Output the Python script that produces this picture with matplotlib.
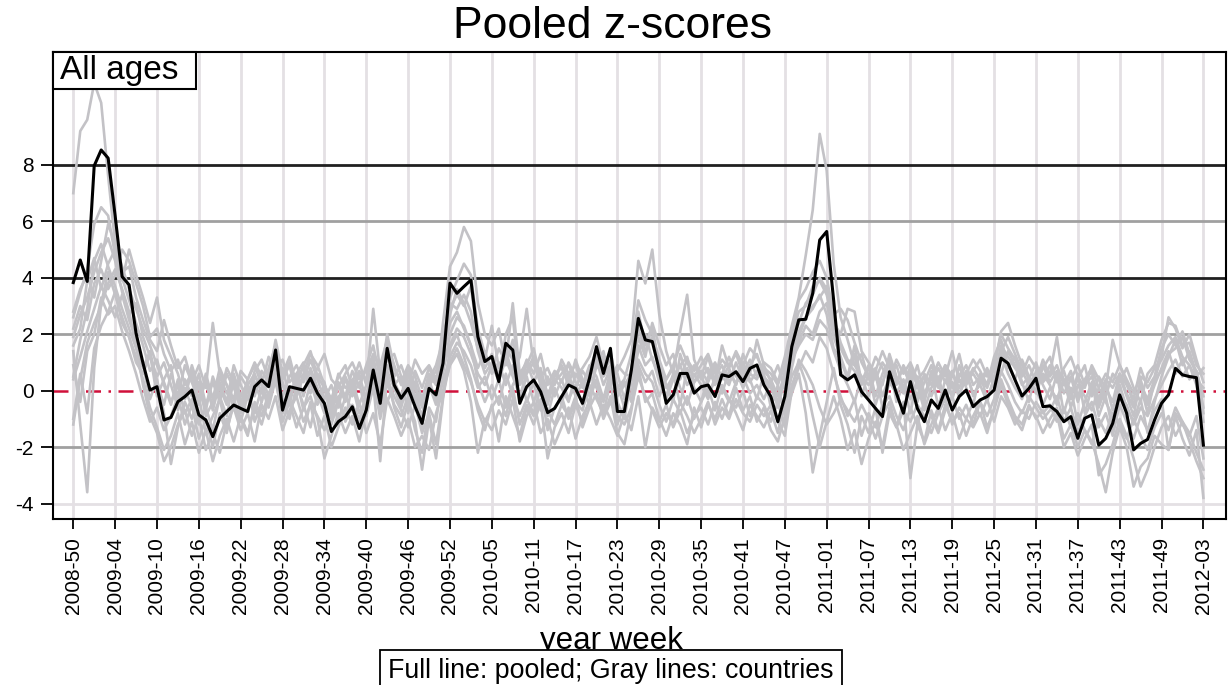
import numpy as np
import matplotlib
matplotlib.use("Agg")
import matplotlib.pyplot as plt
from matplotlib.patches import Rectangle

plt.rcParams['font.family'] = ['Liberation Sans', 'DejaVu Sans']

# tick labels (every 6th week)
tick_labels = ["2008-50", "2009-04", "2009-10", "2009-16", "2009-22", "2009-28", "2009-34",
               "2009-40", "2009-46", "2009-52", "2010-05", "2010-11", "2010-17", "2010-23",
               "2010-29", "2010-35", "2010-41", "2010-47", "2011-01", "2011-07", "2011-13",
               "2011-19", "2011-25", "2011-31", "2011-37", "2011-43", "2011-49", "2012-03"]

# pooled z-score (black line), weeks 2008-50 .. 2012-03
pooled = [3.83, 4.63, 3.87, 7.97, 8.53, 8.24, 6.2, 4.04, 3.75, 2.03,
          0.97, 0.02, 0.14, -1.04, -0.95, -0.39, -0.21, 0.02, -0.86, -1.04,
          -1.63, -0.98, -0.74, -0.51, -0.63, -0.74, 0.14, 0.38, 0.14, 1.44,
          -0.69, 0.14, 0.08, 0.02, 0.44, -0.09, -0.45, -1.45, -1.10, -0.92,
          -0.57, -1.34, -0.69, 0.73, -0.45, 1.50, 0.20, -0.27, 0.08, -0.57,
          -1.16, 0.08, -0.15, 0.97, 3.81, 3.45, 3.69, 3.92, 1.91, 1.03,
          1.21, 0.32, 1.68, 1.44, -0.45, 0.14, 0.38, -0.04, -0.78, -0.63,
          -0.21, 0.20, 0.08, -0.45, 0.44, 1.56, 0.61, 1.50, -0.74, -0.74,
          0.73, 2.56, 1.80, 1.74, 0.73, -0.45, -0.15, 0.61, 0.61, -0.09,
          0.14, 0.20, -0.21, 0.56, 0.50, 0.67, 0.32, 0.79, 0.91, 0.20,
          -0.21, -1.10, -0.21, 1.56, 2.51, 2.53, 3.45, 5.34, 5.64, 3.2,
          0.56, 0.38, 0.56, -0.04, -0.33, -0.63, -0.92, 0.67, -0.09, -0.80,
          0.32, -0.63, -1.10, -0.33, -0.63, 0.02, -0.69, -0.21, 0.02, -0.57,
          -0.33, -0.21, 0.02, 1.15, 0.97, 0.38, -0.19, 0.08, 0.44, -0.57,
          -0.54, -0.74, -1.10, -0.92, -1.69, -0.98, -0.86, -1.93, -1.69, -1.16,
          -0.15, -0.80, -2.10, -1.87, -1.73, -1.04, -0.45, -0.15, 0.79, 0.56,
          0.50, 0.46, -1.93]

# country z-scores (gray lines)
c01 = [7.0, 9.2, 9.6, 10.9, 10.2, 7.6, 5.2, 4.4, 3.6, 2.9,
       2.2, 1.6, 0.9, 0.3, -0.4, 0.2, -0.8, -0.3, -1.2, -0.6,
       -1.4, -0.2, -0.9, 0.4, -0.3, -0.8, 0.5, 0.2, -0.4, 0.9,
       0.3, -0.5, 0.6, -0.2, 0.8, 0.1, -0.7, -1.2, -0.4, -1.0,
       0.2, -0.8, -0.3, 1.1, -0.6, 0.9, 0.4, -0.5, 0.6, -0.2,
       -0.9, 0.4, -0.4, 1.2, 2.4, 2.8, 2.2, 1.6, 0.8, 1.4,
       0.6, 1.0, 0.2, 0.9, -0.3, 0.5, -0.4, 0.3, -0.9, 0.1,
       -0.5, 0.6, -0.2, 0.3, -0.6, 1.1, 0.2, 0.8, -0.4, -1.0,
       0.4, 1.6, 0.9, 1.2, 0.3, -0.2, 0.6, -0.5, 0.8, 0.1,
       -0.4, 0.5, 0.9, -0.1, 0.7, 0.2, 1.0, 0.4, -0.3, 0.6,
       -0.6, 0.2, -0.9, 0.8, 1.9, 2.6, 2.9, 3.4, 2.7, 1.5,
       1.1, 0.4, 1.3, -0.2, 0.6, -0.5, 0.3, 1.0, -0.4, 0.2,
       -0.8, 0.5, -0.3, 0.7, -0.6, 0.4, -0.2, 0.9, 0.1, -0.5,
       0.6, -0.3, 0.4, 1.5, 0.8, 1.2, 0.3, -0.4, 0.7, 0.2,
       -0.3, 0.6, -0.8, 0.1, -1.2, -0.4, 0.3, -0.9, -0.2, -1.4,
       0.2, -0.6, -1.1, -0.3, -1.5, -0.4, 0.5, 1.2, 1.8, 0.9,
       1.4, 0.6, -0.8]
c02 = [1.4, -1.2, -3.6, 0.8, 3.1, 4.2, 3.4, 2.6, 1.9, 1.2,
       0.4, -0.6, -1.3, -2.1, -1.6, -0.8, -1.9, -1.1, -2.2, -1.4,
       -2.5, -1.6, -1.0, -1.8, -0.9, -1.5, -0.6, -1.2, -0.3, 0.5,
       -1.1, -0.4, -1.3, -0.6, -0.2, -1.0, -2.4, -1.6, -0.8, -1.5,
       -0.9, -1.8, -0.7, 0.3, -2.5, 0.6, -0.6, -1.3, -0.4, -1.1,
       -2.8, -1.0, -2.4, -0.3, 1.5, 2.0, 1.2, 0.4, -0.7, -1.4,
       -0.5, -1.8, -0.2, -0.9, -1.6, -0.6, -1.2, -0.4, -2.4, -1.3,
       -0.8, -1.5, -0.5, -1.1, -0.3, 0.4, -0.9, -0.2, -1.5, -1.9,
       -0.7, 0.8, -0.4, -0.1, -1.0, -1.6, -0.8, -1.2, -1.9, -0.6,
       -1.3, -0.5, -1.0, -0.3, -0.9, 0.1, -0.7, -0.2, -1.1, -0.6,
       -1.4, -1.8, -0.9, -0.1, 0.6, -0.8, -2.9, -1.6, -0.4, 0.8,
       -0.5, -1.2, -2.2, -0.9, -1.5, -0.6, -2.2, -0.8, -1.3, -0.4,
       -3.1, -1.2, -1.8, -0.7, -1.4, -0.5, -1.1, -0.8, -1.6, -0.9,
       -0.4, -1.3, -0.7, 0.2, -0.5, -1.0, -1.4, -0.6, -0.9, -1.5,
       -1.0, -0.6, -1.7, -1.2, -2.0, -1.4, -1.8, -2.6, -3.6, -2.2,
       -1.3, -2.0, -3.4, -2.7, -2.4, -1.6, -1.9, -2.1, -0.9, -1.7,
       -2.3, -1.4, -3.8]
c03 = [2.6, 3.5, 4.3, 5.9, 6.5, 6.2, 4.8, 3.9, 5.0, 4.1,
       3.3, 2.4, 3.3, 1.8, 1.2, 0.6, -0.3, 0.8, -0.5, 0.4,
       -0.7, 0.3, -0.4, 0.9, 0.2, -0.3, 0.7, 1.1, 0.4, 1.8,
       0.6, 1.2, 0.2, 0.9, 1.4, 0.5, 0.1, -0.6, 0.3, -0.2,
       0.7, 0.1, 0.9, 1.6, 0.4, 2.0, 0.8, 0.3, 0.9, 0.5,
       -0.3, 0.6, 0.2, 2.4, 4.4, 4.9, 5.8, 5.3, 3.1, 2.0,
       1.6, 2.2, 0.9, 1.8, 0.4, 1.1, 0.6, 1.3, 0.2, 0.7,
       0.3, 1.0, 0.5, 0.8, 1.2, 1.9, 0.9, 1.4, 0.1, 0.4,
       1.3, 3.2, 2.5, 2.0, 1.1, 0.4, 0.9, 1.6, 1.0, 0.5,
       0.9, 1.3, 0.6, 1.1, 0.8, 1.4, 0.9, 1.5, 1.2, 0.7,
       0.4, -0.2, 0.6, 1.9, 2.8, 3.0, 3.7, 3.9, 3.4, 2.4,
       2.0, 2.9, 2.8, 1.4, 1.0, 0.6, 0.2, 1.3, 0.5, -0.1,
       0.9, 0.3, -0.4, 0.6, 0.1, 0.8, -0.3, 0.5, 0.9, 0.2,
       0.5, 0.1, 0.8, 2.1, 2.4, 1.6, 0.9, 0.4, 1.0, 0.3,
       0.6, 1.9, 0.2, 0.5, -0.4, 0.3, 0.7, -0.6, 0.1, 1.8,
       0.9, 0.3, -0.5, 0.2, -0.8, 0.4, 1.2, 2.6, 2.2, 1.5,
       2.0, 1.1, 0.3]
c04 = [0.5, 1.8, 2.9, 4.6, 5.2, 4.4, 3.7, 2.9, 2.2, 1.5,
       0.8, 1.4, 0.3, -0.5, 0.6, -0.2, 0.9, 0.3, -0.4, 0.6,
       -0.3, 0.8, 0.2, -0.6, 0.5, 0.1, -0.2, 0.7, 0.3, 0.9,
       0.2, -0.3, 0.5, 0.8, -0.1, 0.6, 0.3, -0.8, 0.2, -0.4,
       0.4, -0.5, 0.2, 0.9, -0.2, 0.7, 0.1, -0.6, 0.3, -0.3,
       -1.0, 0.2, 0.5, 0.8, 1.6, 2.2, 1.9, 1.3, 0.6, 0.2,
       0.9, 0.4, 1.1, 0.5, -0.2, 0.6, 1.0, 0.2, -0.5, 0.4,
       0.1, -0.4, 0.6, 0.2, 0.9, 0.5, -0.3, 0.7, 0.2, -0.6,
       0.3, 1.4, 2.0, 1.1, 0.5, -0.3, 0.4, 0.9, 0.2, 0.6,
       0.2, -0.3, 0.5, 0.9, 0.3, 0.7, 0.1, 0.6, 0.4, 1.0,
       0.8, 0.3, 1.2, 2.3, 3.3, 4.8, 6.4, 9.1, 7.8, 4.5,
       2.6, 1.8, 0.9, 1.3, 0.4, 0.8, -0.2, 0.5, 0.9, 0.1,
       0.6, -0.4, 0.3, 0.9, 0.2, -0.3, 0.6, 0.1, 0.7, -0.2,
       0.3, 0.8, 0.1, 0.6, 1.4, 0.9, 0.2, 0.5, -0.1, 0.6,
       0.2, -0.5, 0.4, -0.3, 0.6, -0.8, 0.1, -0.4, 0.3, -0.7,
       0.5, -0.2, -0.9, 0.4, -0.5, 0.2, 0.8, 1.4, 0.6, 1.1,
       0.4, 0.7, -0.6]
c05 = [1.9, 2.7, 3.3, 4.2, 4.9, 5.4, 4.6, 3.5, 2.7, 3.1,
       1.9, 1.2, 0.5, 1.0, 0.2, -0.6, 0.4, -0.2, 0.6, -0.5,
       0.3, -0.4, 0.6, 0.1, -0.5, 0.4, 0.9, 0.2, 1.2, 0.6,
       -0.2, 0.5, 0.9, 0.3, 1.1, 0.4, -0.3, 0.2, -0.6, 0.5,
       -0.1, 0.6, -0.4, 0.8, 0.3, 1.1, 1.3, 0.5, -0.2, 0.7,
       0.1, 0.8, 0.3, 1.5, 2.7, 3.6, 3.1, 2.4, 1.5, 0.8,
       1.3, 0.5, 2.0, 2.6, 0.3, 0.9, 1.5, 0.4, -0.3, 0.6,
       0.8, 0.2, 1.1, 0.4, -0.2, 0.9, 1.4, 0.3, 0.7, 1.2,
       1.8, 4.6, 3.8, 5.0, 2.7, 1.4, 0.6, 2.1, 3.4, 1.1,
       0.5, 1.2, 0.3, 1.6, 0.8, 0.2, 1.3, 0.6, 1.8, 0.9,
       0.3, 0.9, 0.1, 1.2, 1.7, 2.3, 2.0, 2.8, 3.1, 1.9,
       1.2, 0.5, 1.6, 0.3, 0.9, -0.2, 0.6, 1.1, 0.3, 0.8,
       0.2, 0.9, -0.1, 0.4, 1.0, 0.5, 1.4, 0.3, 0.6, 1.1,
       0.7, 0.2, 1.2, 1.8, 0.9, 0.4, 1.1, 0.5, 0.2, 0.8,
       1.2, 0.3, 0.7, -0.1, 0.4, 0.9, -0.2, 0.5, 0.1, -0.4,
       0.6, 0.2, -0.3, 0.8, 0.1, 0.5, 1.5, 2.0, 1.6, 2.1,
       1.3, 0.5, 0.8]
c06 = [-1.2, 0.4, 1.7, 2.4, 3.0, 3.8, 4.3, 3.6, 2.8, 1.6,
       0.2, -0.9, -1.5, -2.5, -2.0, -1.2, -0.7, -1.6, -0.9, -2.1,
       -1.5, -2.2, -1.1, -0.6, -1.4, -0.8, -1.8, -0.5, -1.0, -0.2,
       -1.4, -0.7, -0.2, -1.1, -0.5, -1.6, -0.9, -2.0, -1.3, -0.6,
       -1.2, -0.4, -1.5, -0.8, -1.9, -0.3, -0.9, -1.6, -1.0, -2.0,
       -1.6, -2.1, -0.8, 0.0, 0.9, 1.3, 0.7, -0.4, -2.2, -1.0,
       -1.4, -0.7, -1.2, -0.3, -1.8, -0.9, -0.4, -1.5, -1.0, -1.9,
       -1.3, -0.6, -1.7, -0.9, -0.4, -1.2, -0.5, -1.0, -1.6, -0.8,
       -1.4, -0.2, -2.0, -0.6, -1.1, -0.5, -1.3, -0.7, -1.5, -0.9,
       -0.6, -1.2, -0.4, -1.0, -0.3, -0.8, -1.4, -0.5, -0.9, -1.3,
       -0.7, -1.5, -0.4, 0.5, 1.0, 0.3, -0.9, -2.0, -1.1, -0.2,
       -1.0, -2.1, -1.4, -2.6, -1.7, -1.1, -2.0, -0.6, -1.2, -2.1,
       -1.5, -0.9, -1.9, -1.2, -0.6, -1.4, -0.8, -1.7, -1.0, -1.3,
       -0.8, -1.5, -0.6, 0.4, -0.3, -0.9, -1.2, -0.5, -1.0, -0.7,
       -1.3, -0.8, -2.0, -1.5, -2.3, -1.7, -1.2, -3.0, -2.6, -1.9,
       -1.0, -1.6, -2.4, -3.4, -2.8, -2.0, -1.3, -0.9, -1.6, -1.1,
       -1.8, -2.5, -3.1]
c07 = [2.8, 3.6, 4.1, 3.3, 4.6, 5.9, 5.2, 4.0, 3.2, 2.4,
       1.6, 0.7, 1.1, 0.2, -0.5, 0.4, -0.3, 0.9, 0.1, -0.7,
       0.5, -0.2, 0.8, 0.3, -0.6, 0.2, 0.6, -0.1, 0.5, 1.1,
       0.4, 0.9, -0.2, 0.5, 0.7, -0.3, 0.2, -0.4, 0.6, 0.1,
       0.3, 1.0, 0.2, 2.9, 0.6, 1.4, 0.3, -0.2, 0.8, 0.2,
       -0.5, 0.4, 0.9, 1.8, 3.3, 3.9, 4.5, 4.1, 2.2, 1.3,
       0.7, 1.5, 1.0, 3.1, 0.6, 1.0, 0.3, 0.8, -0.2, 0.5,
       0.9, 0.4, 0.1, 0.7, 0.3, 1.3, 0.5, 0.9, 0.6, -0.3,
       0.8, 2.2, 1.4, 1.9, 0.9, 0.2, -0.4, 1.3, 0.5, 0.9,
       0.4, 0.8, 0.2, 0.6, 1.2, 0.5, 0.8, 0.3, 0.7, 0.4,
       0.1, -0.5, 0.7, 1.6, 2.4, 3.1, 3.4, 4.0, 3.6, 2.2,
       1.5, 1.0, 0.7, 0.2, 0.8, 0.4, 1.0, 0.6, 0.2, 0.9,
       0.4, -0.2, 0.6, 0.2, 0.8, 0.3, 0.7, -0.1, 0.4, 0.6,
       0.2, 0.7, 0.4, 1.6, 1.2, 0.8, 0.5, 0.9, 0.3, 1.1,
       0.5, 0.9, 0.2, 0.7, -0.2, 0.4, 0.8, 0.1, 0.6, 0.3,
       0.9, 0.4, -0.1, 0.5, 0.3, 0.8, 1.1, 1.6, 1.9, 1.2,
       0.9, 0.4, 0.1]
c08 = [0.4, 1.2, 2.1, 2.9, 3.7, 3.2, 2.6, 3.4, 2.5, 1.8,
       0.9, -0.3, 0.4, -0.8, -2.6, -1.3, -0.4, -1.0, -0.2, -1.5,
       -0.9, -0.3, -1.4, -0.5, -1.1, -0.2, -0.8, 0.1, -0.6, 0.4,
       -0.3, -1.0, 0.2, -0.5, -1.3, -0.1, -0.8, -0.3, -1.1, -0.2,
       -0.7, -1.2, -0.1, 0.5, -1.0, 0.3, -0.5, -0.9, -0.2, -1.4,
       -2.2, -0.6, -1.1, 0.6, 2.0, 2.6, 2.3, 1.6, 0.3, -0.4,
       0.2, -0.5, 0.6, -0.2, -0.9, -0.3, -0.8, 0.1, -1.4, -0.6,
       -0.2, -1.0, -0.4, -0.7, 0.2, -0.3, -0.8, 0.3, -1.2, -0.5,
       -0.1, 1.1, 0.6, 0.3, -0.5, -1.1, -0.3, -0.8, -0.2, -1.0,
       -0.4, 0.1, -0.7, 0.2, -0.3, -0.6, 0.0, -0.9, -0.2, -0.5,
       -1.1, -0.4, -1.3, 0.2, 0.8, 1.4, 1.0, 1.9, 1.5, 0.6,
       -0.2, -0.9, -0.3, -1.6, -0.8, -1.3, -0.5, -0.2, -0.9, -1.4,
       -0.6, -1.2, -0.4, -0.9, -1.5, -0.7, -0.2, -1.0, -0.5, -1.2,
       -0.4, -0.9, -0.3, 0.7, 0.2, -0.4, -0.8, -0.2, -0.6, -1.0,
       -0.7, -0.2, -1.1, -0.6, -1.5, -0.9, -0.4, -1.3, -0.8, -1.6,
       -0.5, -1.1, -1.7, -0.9, -1.4, -0.7, -0.3, -2.1, -0.8, -1.2,
       -1.6, -0.9, -2.4]
c09 = [1.6, 2.2, 3.9, 4.7, 3.6, 4.5, 5.0, 4.2, 4.4, 3.3,
       2.5, 1.8, 1.4, 2.5, 1.6, 0.8, 1.2, 0.3, 0.9, 0.1,
       2.4, 0.6, 0.2, -0.3, 0.7, 0.4, 1.0, 0.5, -0.2, 0.8,
       1.1, 0.3, 0.6, 1.0, 0.2, 0.8, 1.3, 0.4, 0.1, 0.6,
       1.0, 0.4, 0.7, 1.3, 0.9, 1.8, 0.5, 0.9, 0.2, 1.1,
       0.6, 0.9, 0.4, 1.3, 2.9, 3.4, 3.0, 3.7, 1.8, 1.1,
       2.3, 0.8, 1.4, 0.6, 1.2, 2.9, 0.9, 0.5, 0.8, 0.2,
       1.1, 0.6, 0.9, 0.2, 0.6, 0.8, 1.2, 0.4, 0.9, 0.6,
       0.5, 1.9, 1.2, 2.4, 1.6, 0.9, 1.3, 0.4, 1.1, 0.7,
       1.2, 0.6, 1.0, 0.4, 0.9, 1.3, 0.6, 1.1, 0.5, 0.8,
       0.6, 0.2, 0.9, 2.0, 3.2, 3.6, 4.2, 4.6, 4.0, 2.7,
       2.9, 2.5, 1.7, 1.0, 0.5, 1.2, 0.8, 0.3, 1.1, 0.6,
       1.0, 0.4, 0.7, 1.2, 0.3, 0.9, 0.5, 1.3, 0.2, 0.7,
       1.1, 0.5, 0.9, 2.0, 1.5, 1.1, 0.6, 1.2, 0.8, 0.4,
       0.9, 0.3, 0.8, 1.2, 0.5, 0.1, 0.9, 0.4, -0.2, 0.6,
       0.3, 0.8, 0.1, -0.4, 0.6, 0.9, 1.8, 2.4, 2.3, 1.6,
       1.7, 0.9, 0.6]
c10 = [-1.0, 0.6, -0.8, 1.5, 2.3, 2.8, 3.5, 2.4, 1.9, 1.0,
       0.6, 1.3, -0.2, 0.4, 0.9, -0.7, 0.1, -0.6, 0.3, -0.9,
       -0.4, 0.1, -0.5, 0.6, -0.2, 0.3, -1.1, -0.4, 0.6, 0.2,
       0.8, -0.2, 0.4, -0.7, 0.3, -0.5, 0.1, -1.0, -0.3, 0.4,
       -0.2, 0.3, -0.9, 0.1, 0.6, -0.4, 0.2, 0.5, -0.8, 0.3,
       -1.3, 0.2, -0.5, 0.3, 1.2, 1.7, 1.4, 0.9, 0.1, 0.5,
       -0.3, 0.4, -0.6, 0.2, 0.7, -0.4, 0.3, -0.7, 0.5, -0.2,
       0.4, -0.3, 0.2, -0.5, 0.6, 0.1, -0.4, 0.5, -0.1, 0.3,
       -0.4, 0.9, 0.3, 0.7, -0.2, 0.4, 0.8, 0.1, -0.5, 0.3,
       0.6, -0.2, 0.4, 0.1, -0.4, 0.3, 0.5, -0.1, 0.2, -0.3,
       0.3, -0.6, 0.4, 1.1, 1.6, 2.0, 1.8, 2.5, 2.2, 1.4,
       0.7, 0.2, -0.4, 0.5, -0.2, 0.6, -0.6, 0.3, -0.1, 0.4,
       -0.3, 0.2, -0.7, 0.1, 0.5, -0.4, 0.3, -0.2, 0.6, -0.1,
       0.2, -0.4, 0.5, 1.3, 0.6, 0.1, -0.3, 0.4, 0.0, -0.5,
       0.1, -0.3, 0.4, -0.6, 0.2, -0.2, -0.7, 0.1, -0.4, -0.9,
       -0.2, -0.5, -1.2, -0.6, -0.9, -0.3, 0.2, 0.7, 1.1, 0.5,
       0.9, 0.2, -1.1]
c11 = [2.2, 3.0, 2.5, 3.8, 4.3, 3.6, 4.1, 5.0, 4.6, 3.8,
       3.0, 1.9, 2.2, 1.3, 0.7, 1.1, 0.2, 0.6, -0.3, 0.3,
       -0.6, 0.5, -0.1, 0.4, -0.8, 0.0, 0.3, -0.4, 0.8, 1.6,
       0.5, 1.0, -0.1, 0.6, 1.3, 0.9, 0.2, -0.3, 0.5, 0.9,
       0.1, 0.7, 0.4, 1.2, 0.0, 1.6, 0.9, 0.2, 0.6, 0.1,
       -0.6, 0.3, 0.7, 1.4, 3.1, 2.9, 3.4, 2.8, 1.4, 0.6,
       1.0, 0.3, 1.5, 1.1, 0.2, 0.7, 1.2, 0.6, -0.1, 0.3,
       0.6, 0.9, 0.3, 0.1, 0.8, 1.4, 0.7, 1.1, -0.2, 0.2,
       0.6, 2.8, 1.6, 2.3, 0.8, 0.1, 0.5, 0.9, 1.2, 0.3,
       0.7, 0.3, 0.9, 0.5, 0.2, 1.0, 0.4, 0.9, 1.3, 0.5,
       0.2, -0.4, 0.5, 1.3, 2.1, 2.6, 3.0, 3.3, 3.7, 2.6,
       1.7, 1.1, 0.9, 0.5, 0.2, 0.7, 1.4, 0.8, 0.4, 0.1,
       0.7, 0.2, 0.5, -0.2, 0.4, 0.9, 0.1, 0.6, 0.3, 0.8,
       0.4, 0.6, 0.2, 1.4, 1.9, 1.3, 0.7, 0.2, 0.6, 0.9,
       0.3, 0.7, -0.1, 0.4, 0.9, 0.2, 0.5, -0.3, 0.4, 0.1,
       0.6, -0.1, -0.6, 0.2, -0.3, 0.4, 0.7, 1.3, 1.5, 1.9,
       1.1, 0.7, -0.2]
c12 = [0.9, -0.4, 1.4, 2.0, 3.3, 2.7, 3.0, 2.1, 1.4, 0.6,
       -0.3, -1.1, -0.6, -1.4, -0.9, -0.2, -1.2, -0.5, -1.7, -1.0,
       -2.0, -0.8, -1.5, -0.3, -1.0, -1.6, -0.4, -0.9, -0.1, 0.3,
       -0.8, -0.3, -0.9, -1.5, -0.4, -0.9, -1.4, -0.6, -0.2, -1.1,
       -0.5, -1.0, -0.3, 0.1, -0.8, 0.4, -0.2, -0.7, -1.3, -0.5,
       -1.5, -0.8, -1.9, -0.2, 1.0, 1.5, 0.9, 0.3, -0.5, -1.1,
       -0.6, -0.2, -0.9, 0.1, -1.2, -0.5, -0.9, -0.3, -0.7, -1.2,
       -0.5, -0.9, -0.2, -1.3, -0.6, -0.1, -1.0, -0.4, -0.9, -1.2,
       -0.6, 0.5, -0.2, -0.7, -1.3, -0.8, -1.2, -0.4, -0.9, -1.5,
       -1.0, -0.4, -1.2, -0.6, -1.0, -0.3, -0.8, -1.1, -0.5, -0.9,
       -0.5, -1.1, -1.6, 0.0, 1.1, 0.7, 0.2, -0.6, -1.2, -0.8,
       -0.3, -0.7, -1.1, -0.5, -1.0, -1.7, -0.9, -0.4, -1.3, -0.7,
       -1.1, -0.5, -0.9, -1.5, -0.8, -0.3, -1.2, -0.6, -1.0, -0.4,
       -0.9, -0.3, -1.1, -0.2, -0.6, -1.2, -0.7, -1.0, -0.4, -0.8,
       -0.5, -1.1, -0.6, -1.3, -0.8, -1.4, -1.9, -1.0, -1.5, -0.8,
       -1.2, -1.7, -1.0, -1.6, -2.1, -1.3, -0.8, -1.4, -0.6, -1.1,
       -1.5, -2.2, -2.8]
countries = [c01, c02, c03, c04, c05, c06, c07, c08, c09, c10, c11, c12]

x = np.arange(len(pooled))
tick_pos = np.arange(0, len(pooled), 6)

fig = plt.figure(figsize=(12.28, 6.85), dpi=100)
ax = fig.add_axes([0.0432, 0.2423, 0.9555, 0.6817])

# reference lines
for tp in tick_pos:
    ax.axvline(tp, color='#e4e0e4', lw=2, zorder=0)
ax.axhline(-4, color='#e4e0e4', lw=2, zorder=0)
for yv in [6, 2, -2]:
    ax.axhline(yv, color='#a0a0a0', lw=2, zorder=1)
for yv in [8, 4]:
    ax.axhline(yv, color='#202020', lw=2, zorder=1)
ax.axhline(0, color='#d0103a', lw=1.8, ls=(0, (6, 3, 1, 3)), zorder=1)

for c in countries:
    ax.plot(x, c, color='#c3c2c6', lw=1.9, zorder=2)
ax.plot(x, pooled, color='black', lw=2.2, zorder=3)

ax.set_xlim(-2.9, 165.3)
ax.set_ylim(-4.55, 12.0)
ax.set_yticks([-4, -2, 0, 2, 4, 6, 8])
ax.set_yticklabels(['-4', '-2', '0', '2', '4', '6', '8'])
ax.set_xticks(tick_pos)
ax.set_xticklabels(tick_labels, rotation=90)
ax.tick_params(axis='both', labelsize=15, width=1.3, color='black')
ax.tick_params(axis='x', length=7, pad=6)
ax.tick_params(axis='y', length=9, pad=5)
for s in ax.spines.values():
    s.set_linewidth(1.5)

# "All ages" box
ax.add_patch(Rectangle((0, 1 - 0.0792), 0.1218, 0.0792, transform=ax.transAxes,
                       facecolor='white', edgecolor='black', lw=1.5, zorder=5, clip_on=False))
ax.text(0.006, 1 - 0.0396, "All ages", transform=ax.transAxes, fontsize=24,
        va='center', ha='left', zorder=6)

fig.text(0.499, 0.961, "Pooled z-scores", fontsize=32, ha='center', va='center')
fig.text(0.498, 0.064, "year week", fontsize=22.5, ha='center', va='center')
fig.text(0.4976, 0.021, "Full line: pooled; Gray lines: countries", fontsize=19.3,
         ha='center', va='center',
         bbox=dict(boxstyle='square,pad=0.3', facecolor='white', edgecolor='black', lw=1.3))

fig.savefig("out.png", dpi=100)
